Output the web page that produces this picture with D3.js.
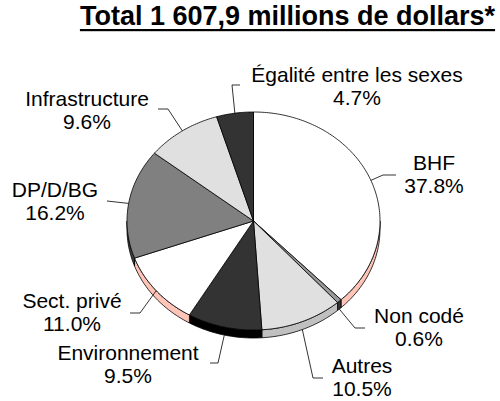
<!DOCTYPE html>
<html lang="fr">
<head>
  <meta charset="UTF-8">
  <title>Total 1 607,9 millions de dollars</title>
  <style>
    body { margin: 0; padding: 0; background: #fff; }
    svg { display: block; font-family: "Liberation Sans", Arial, sans-serif; }
  </style>
  <script src="https://d3js.org/d3.v7.min.js"></script>
</head>
<body>
  <div id="chart"></div>
  <script>
    // Data
    const categories = ["BHF", "Non codé", "Autres", "Environnement", "Sect. privé", "DP/D/BG", "Infrastructure", "Égalité entre les sexes"];
    const shares = [37.8, 0.6, 10.5, 9.5, 11.0, 16.2, 9.6, 4.7];
    const pctLabels = ["37.8%", "0.6%", "10.5%", "9.5%", "11.0%", "16.2%", "9.6%", "4.7%"];
    const title = "Total 1 607,9 millions de dollars*";

    // Styling per slice (top face, side)
    const topColors = ["#ffffff", "#999999", "#e0e0e0", "#333333", "#ffffff", "#808080", "#e0e0e0", "#333333"];
    const sideColors = ["#ffc4b8", "#333333", "#c0c0c0", "#000000", "#ffc4b8", "#404040", "#c0c0c0", "#000000"];

    // Label placement: text centre x, first baseline y, elbow point, horizontal end x
    const labelLayout = [
      { x: 434, y: 170, ex: 383, ey: 175, hx: 396 },
      { x: 419, y: 323, ex: 355, ey: 328, hx: 365 },
      { x: 362, y: 373, ex: 313, ey: 378, hx: 323 },
      { x: 128, y: 360, ex: 218, ey: 363, hx: 210 },
      { x: 72,  y: 308, ex: 140, ey: 313, hx: 130 },
      { x: 55,  y: 197, ex: 107, ey: 201, hx: 107 },
      { x: 87,  y: 106, ex: 168, ey: 109, hx: 158 },
      { x: 357, y: 82,  ex: 232, ey: 85,  hx: 240 }
    ];

    const width = 500, height = 401;
    const cx = 253.5, cy = 221, rx = 126.5, ry = 109, depth = 8;

    const svg = d3.select("#chart").append("svg")
      .attr("width", width)
      .attr("height", height);

    // unit circle -> ellipse
    const x = d3.scaleLinear().domain([-1, 1]).range([cx - rx, cx + rx]);
    const y = d3.scaleLinear().domain([-1, 1]).range([cy - ry, cy + ry]);
    const pt = (a, off = 0) => [x(Math.sin(a)), y(-Math.cos(a)) + off];

    const arcPoints = (a0, a1, off = 0) => {
      const n = Math.max(2, Math.ceil((a1 - a0) / (Math.PI / 180)));
      return d3.range(n + 1).map(i => pt(a0 + (a1 - a0) * i / n, off));
    };

    const line = d3.line();

    const pie = d3.pie().sort(null).value(d => d)
      .startAngle(0).endAngle(2 * Math.PI);
    const slices = pie(shares);

    // Side walls (only front half is visible)
    slices.forEach((s, i) => {
      const a0 = Math.max(s.startAngle, Math.PI / 2);
      const a1 = Math.min(s.endAngle, 3 * Math.PI / 2);
      if (a1 <= a0) return;
      const pts = arcPoints(a0, a1).concat(arcPoints(a0, a1, depth).reverse());
      svg.append("path")
        .attr("d", line(pts) + "Z")
        .attr("fill", sideColors[i])
        .attr("stroke", "#000")
        .attr("stroke-width", 0.8)
        .attr("stroke-linejoin", "round");
    });

    // Top faces
    slices.forEach((s, i) => {
      const pts = [[cx, cy]].concat(arcPoints(s.startAngle, s.endAngle));
      svg.append("path")
        .attr("d", line(pts) + "Z")
        .attr("fill", topColors[i])
        .attr("stroke", "#000")
        .attr("stroke-width", 0.8)
        .attr("stroke-linejoin", "round");
    });

    // Leader lines
    slices.forEach((s, i) => {
      const L = labelLayout[i];
      const mid = (s.startAngle + s.endAngle) / 2;
      const front = Math.cos(mid) < 0 && Math.abs(Math.sin(mid)) < 0.7;
      const a = pt(mid, front ? depth : 0);
      svg.append("path")
        .attr("d", line([a, [L.ex, L.ey], [L.hx, L.ey]]))
        .attr("fill", "none")
        .attr("stroke", "#000")
        .attr("stroke-width", 0.8);
    });

    // Labels
    const labels = svg.append("g")
      .attr("font-size", 21)
      .attr("text-anchor", "middle")
      .attr("fill", "#000");

    categories.forEach((c, i) => {
      const L = labelLayout[i];
      const t = labels.append("text").attr("x", L.x).attr("y", L.y);
      t.append("tspan").attr("x", L.x).text(c);
      t.append("tspan").attr("x", L.x).attr("dy", 23).text(pctLabels[i]);
    });

    // Title
    const tt = svg.append("text")
      .attr("x", 287.5)
      .attr("y", 25)
      .attr("text-anchor", "middle")
      .attr("font-size", 27)
      .attr("font-weight", "bold")
      .text(title);
    const tw = tt.node().getComputedTextLength();
    svg.append("rect")
      .attr("x", 287.5 - tw / 2)
      .attr("y", 29)
      .attr("width", tw)
      .attr("height", 2.2)
      .attr("fill", "#000");
  </script>
</body>
</html>
